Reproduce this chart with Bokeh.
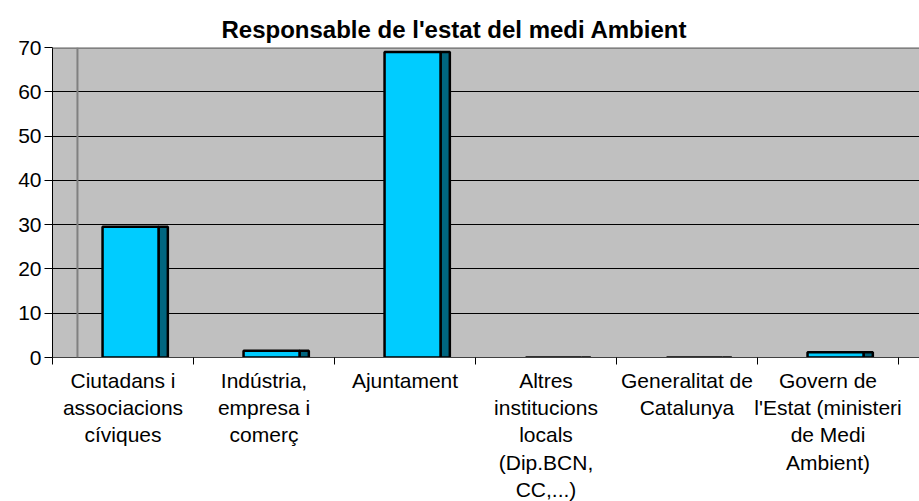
from bokeh.plotting import figure
from bokeh.models import Range1d, FixedTicker, Span, Title
from bokeh.layouts import column
from bokeh.core.properties import value
from bokeh.embed import file_html
from bokeh.resources import INLINE

categories = [
    "Ciutadans i\nassociacions\ncíviques",
    "Indústria,\nempresa i\ncomerç",
    "Ajuntament",
    "Altres\ninstitucions\nlocals\n(Dip.BCN,\nCC,...)",
    "Generalitat de\nCatalunya",
    "Govern de\nl'Estat (ministeri\nde Medi\nAmbient)",
]
values = [29.5, 1.5, 69.0, 0.0, 0.0, 1.2]
y_ticks = [0, 10, 20, 30, 40, 50, 60, 70]
title_text = "Responsable de l'estat del medi Ambient"

FONT = "Liberation Sans"
n = len(categories)
idx = list(range(n))
centers = [i + 0.5 for i in idx]

W = 919
TOP_H = 368
BOTTOM_H = 501 - TOP_H
xr = Range1d(0, 6.149)

p = figure(width=W, height=TOP_H, output_backend="svg", toolbar_location=None,
           x_range=xr, y_range=Range1d(y_ticks[0], y_ticks[-1]),
           min_border_left=52, min_border_right=0, min_border_top=47,
           min_border_bottom=11)
p.title = Title(text=title_text, align="left", offset=169, text_font=FONT,
                text_font_size="24px", text_font_style="bold", text_color="black")
p.background_fill_color = "#C0C0C0"
p.border_fill_color = "white"
p.outline_line_color = None

# back wall edge and top border
p.add_layout(Span(location=0.177, dimension="height", line_color="#808080", line_width=2))
p.add_layout(Span(location=y_ticks[-1], dimension="width", line_color="#808080", line_width=3))

# bars: front face and darker side face
front_l = [i + 0.355 for i in idx]
front_r = [i + 0.752 for i in idx]
side_r = [i + 0.818 for i in idx]
p.quad(left=front_r, right=side_r, bottom=0, top=values,
       fill_color="#006680", line_color="black", line_width=2.5)
p.quad(left=front_l, right=front_r, bottom=0, top=values,
       fill_color="#00CCFF", line_color="black", line_width=2.5)

# grid
p.xgrid.visible = False
p.ygrid.ticker = FixedTicker(ticks=y_ticks)
p.ygrid.grid_line_color = "black"
p.ygrid.grid_line_width = 1

# y axis
p.yaxis.ticker = FixedTicker(ticks=y_ticks)
p.yaxis.major_tick_out = 8
p.yaxis.major_tick_in = 0
p.yaxis.minor_tick_out = 0
p.yaxis.axis_line_color = "black"
p.yaxis.major_tick_line_color = "black"
p.yaxis.major_label_text_font = FONT
p.yaxis.major_label_text_font_size = "21px"
p.yaxis.major_label_text_color = "black"
p.yaxis.major_label_standoff = 3

# x axis: ticks at category boundaries only
bounds = list(range(n + 1))
p.xaxis.ticker = FixedTicker(ticks=bounds)
p.xaxis.major_label_overrides = {b: "" for b in bounds}
p.xaxis.major_label_text_font_size = "1px"
p.xaxis.major_label_standoff = 0
p.xaxis.major_tick_out = 7
p.xaxis.major_tick_in = 0
p.xaxis.minor_tick_out = 0
p.xaxis.major_tick_line_color = "black"
p.xaxis.axis_line_color = "#404040"

# category labels in a strip below, sharing the x range (1 unit = 1 px vertically)
q = figure(width=W, height=BOTTOM_H, output_backend="svg", toolbar_location=None,
           x_range=xr, y_range=Range1d(-BOTTOM_H, 0),
           min_border_left=52, min_border_right=0, min_border_top=0,
           min_border_bottom=0)
q.axis.visible = False
q.grid.visible = False
q.outline_line_color = None
q.background_fill_color = "white"
q.border_fill_color = "white"
q.text(x=centers, y=[0] * n, text=categories, text_align="center",
       text_baseline="top", text_font=value(FONT), text_font_size="21px",
       text_color="black", text_line_height=1.19)

open("out.html", "w").write(file_html(column(p, q), INLINE))
